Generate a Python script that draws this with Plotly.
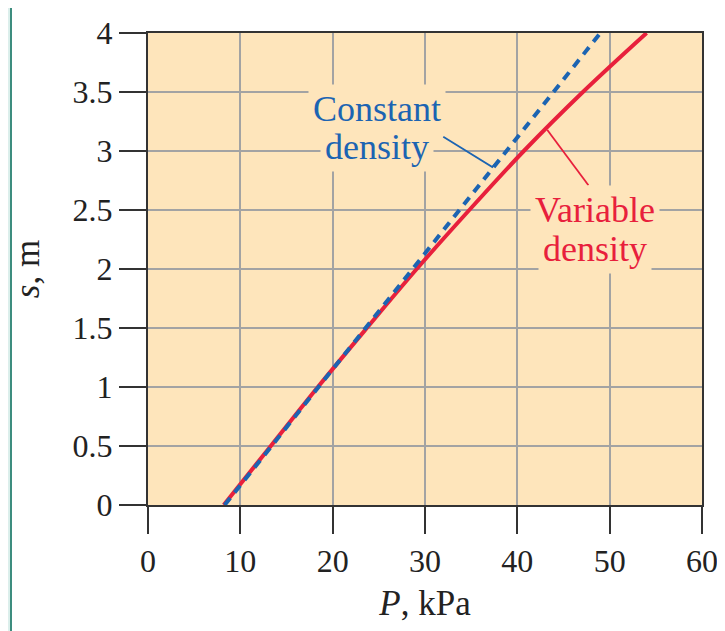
import plotly.graph_objects as go

# depth s (m)
s_vals = [0, 0.5, 1.0, 1.5, 2.0, 2.5, 3.0, 3.5, 4.0]
# pressure P (kPa)
p_variable = [8.2, 13.3, 18.4, 23.7, 29.1, 34.8, 40.7, 47.1, 54.0]
p_constant = [8.3, 13.4, 18.5, 23.6, 28.7, 33.8, 38.9, 44.0, 49.0]

x_ticks = [0, 10, 20, 30, 40, 50, 60]
y_ticks = [0, 0.5, 1, 1.5, 2, 2.5, 3, 3.5, 4]
y_tick_text = ["0", "0.5", "1", "1.5", "2", "2.5", "3", "3.5", "4"]

RED = "#e8203c"
BLUE = "#1c64b2"
BG = "#fee5bb"
FONT = "Liberation Serif"
INK = "#222222"

fig = go.Figure()
fig.add_trace(go.Scatter(x=p_variable, y=s_vals, mode="lines",
                         line=dict(color=RED, width=4, shape="spline"),
                         hoverinfo="skip"))
fig.add_trace(go.Scatter(x=p_constant, y=s_vals, mode="lines",
                         line=dict(color=BLUE, width=4, dash="9px,7px"),
                         hoverinfo="skip"))

axis_common = dict(showline=True, linecolor="#333333", linewidth=2, mirror=True,
                   ticks="outside", ticklen=27, tickwidth=2, tickcolor="#333333",
                   showgrid=True, gridcolor="#a3a3a3", gridwidth=1.5,
                   zeroline=False, automargin=False,
                   tickfont=dict(family=FONT, size=32, color=INK))

fig.update_xaxes(range=[0, 60], tickvals=x_ticks, ticktext=[str(v) for v in x_ticks],
                 title=dict(text="<i>P</i>, kPa", font=dict(family=FONT, size=35, color=INK),
                            standoff=12),
                 **axis_common)
fig.update_yaxes(range=[0, 4], tickvals=y_ticks, ticktext=y_tick_text,
                 title=dict(text="<i>s</i>, m", font=dict(family=FONT, size=35, color=INK),
                            standoff=24),
                 **axis_common)

# leader lines
fig.add_shape(type="path", path="M 31.98 3.12 L 37.29 2.864 L 37.94 2.924",
              line=dict(color=BLUE, width=1.8), xref="x", yref="y", layer="above")
fig.add_shape(type="line", x0=43.25, y0=3.178, x1=47.7, y1=2.71,
              line=dict(color=RED, width=1.8), xref="x", yref="y", layer="above")

# labels (one annotation per line for tight line spacing)
for txt, yy in [("Constant", 3.36), ("density", 3.03)]:
    fig.add_annotation(x=24.8, y=yy, text=txt, showarrow=False,
                       font=dict(family=FONT, size=36, color=BLUE), bgcolor=BG, borderpad=4)
for txt, yy in [("Variable", 2.5), ("density", 2.17)]:
    fig.add_annotation(x=48.45, y=yy, text=txt, showarrow=False,
                       font=dict(family=FONT, size=36, color=RED), bgcolor=BG, borderpad=4)

# page decoration (left teal band)
fig.add_shape(type="rect", xref="paper", yref="paper", x0=-0.2527, x1=-0.2491, y0=-0.3, y1=1.1,
              fillcolor="#dcefec", line=dict(width=0), layer="below")
fig.add_shape(type="rect", xref="paper", yref="paper", x0=-0.2491, x1=-0.2455, y0=-0.3, y1=1.1,
              fillcolor="#3d8d7e", line=dict(width=0), layer="below")

fig.update_layout(width=717, height=623,
                  margin=dict(l=140, r=23, t=25, b=126),
                  plot_bgcolor=BG, paper_bgcolor="white",
                  showlegend=False)

fig.write_html("out.html")
